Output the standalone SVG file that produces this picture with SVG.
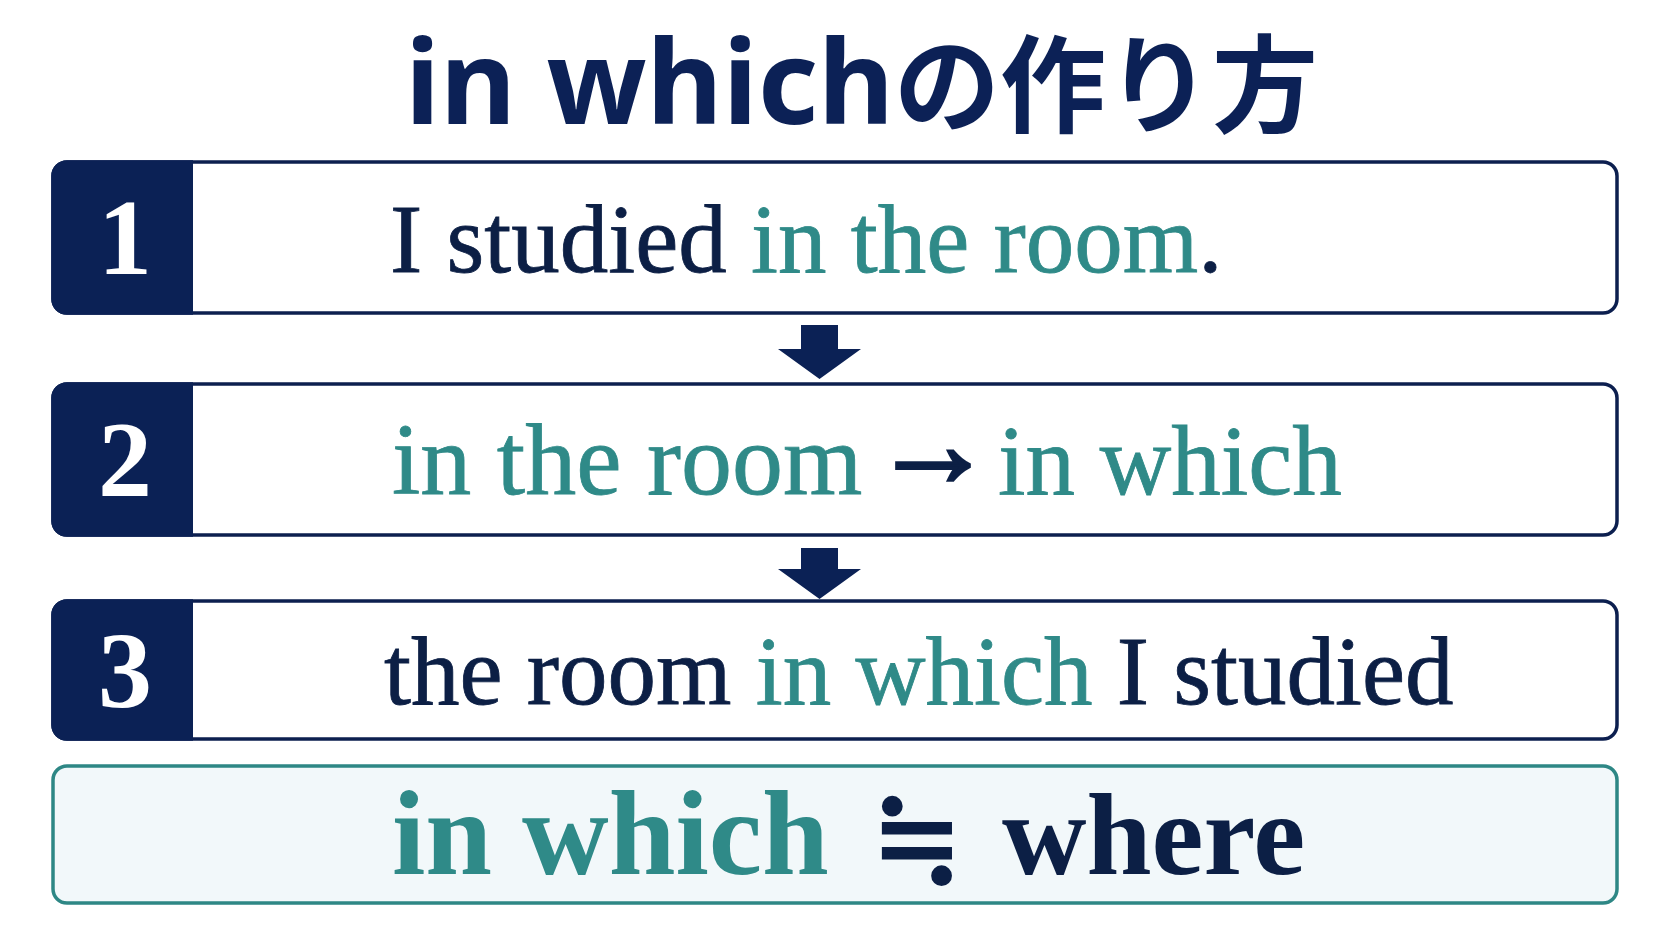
<svg xmlns="http://www.w3.org/2000/svg" width="1672" height="941" viewBox="0 0 1672 941">
<defs>
<style>
.box{fill:#ffffff;stroke:#0c1f4f;stroke-width:3.5}
.panel{fill:#0b2155}
.num{font-family:"Liberation Serif",serif;font-weight:bold;font-size:108px;fill:#ffffff;text-anchor:middle}
.txt{font-family:"Liberation Serif",serif;font-size:97px;fill:#0c1f45;stroke:#0c1f45;stroke-width:0.8}
.teal{fill:#2f8a88;stroke:#2f8a88}
.navy{fill:#0c1f45;stroke:#0c1f45}
.arrow{fill:#0b2155}
</style>
</defs>
<rect width="1672" height="941" fill="#ffffff"/>
<g id="title">
<text x="405" y="124" font-family="'Noto Sans','Noto Sans CJK JP',sans-serif" font-weight="bold" font-size="117" fill="#0c2156">in which<tspan font-family="'Noto Sans CJK JP',sans-serif" font-size="106">の作り方</tspan></text>
</g>
<g id="step1">
<rect class="box" x="53" y="162" width="1564" height="151" rx="14"/>
<path class="panel" d="M67,160.25 H193 V314.75 H67 A15.75,15.75 0 0 1 51.25,299 V176 A15.75,15.75 0 0 1 67,160.25 Z"/>
<text class="num" x="125" y="274">1</text>
<text class="txt" x="390" y="272">I studied <tspan class="teal">in the room</tspan>.</text>
</g>
<g id="step2">
<rect class="box" x="53" y="384" width="1564" height="151" rx="14"/>
<path class="panel" d="M67,382.25 H193 V536.75 H67 A15.75,15.75 0 0 1 51.25,521 V398 A15.75,15.75 0 0 1 67,382.25 Z"/>
<text class="num" x="125" y="496">2</text>
<text class="txt teal" x="392" y="494" style="font-size:102px">in the room</text>
<text class="txt navy" x="872" y="486" style="font-size:122px;font-weight:bold;stroke-width:3.5px">→</text>
<text class="txt teal" x="998" y="494" style="font-size:99px">in which</text>
</g>
<g id="step3">
<rect class="box" x="53" y="601" width="1564" height="138" rx="14"/>
<path class="panel" d="M67,599.25 H193 V740.75 H67 A15.75,15.75 0 0 1 51.25,725 V615 A15.75,15.75 0 0 1 67,599.25 Z"/>
<text class="num" x="125" y="707">3</text>
<text class="txt" x="384" y="704">the room <tspan class="teal">in which</tspan> I studied</text>
</g>
<g id="summary">
<rect x="53" y="766" width="1564" height="137" rx="14" fill="#f2f8fa" stroke="#2e8785" stroke-width="3.5"/>
<text font-family="'Liberation Serif',serif" font-weight="bold" font-size="120" y="874"><tspan x="392" fill="#2f8a88">in which</tspan><tspan x="1002" fill="#0c1f45" font-size="117">where</tspan></text>
<text x="917" y="876" text-anchor="middle" font-family="'DejaVu Serif',serif" font-weight="bold" font-size="112" fill="#0c1f45">≒</text>
</g>
<g id="connectors">
<polygon class="arrow" points="801,325 838,325 838,349 861,349 819.5,379 778,349 801,349"/>
<polygon class="arrow" points="801,548 838,548 838,569 861,569 819.5,599 778,569 801,569"/>
</g>
</svg>
